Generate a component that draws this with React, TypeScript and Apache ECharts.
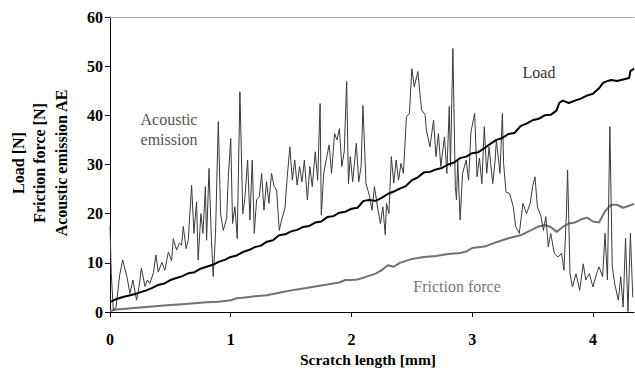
import React, { useEffect, useRef } from "react";
import * as echarts from "echarts";

const xTicks = [0, 1, 2, 3, 4];

const loadData: [number, number][] = [
  [0, 2.0], [0.05, 2.6], [0.1, 3.0], [0.15, 3.3], [0.2, 3.6], [0.25, 4.0], [0.3, 4.4], [0.35, 4.9],
  [0.4, 5.5], [0.45, 5.8], [0.5, 6.5], [0.55, 6.9], [0.6, 7.3], [0.65, 7.9], [0.7, 8.1], [0.75, 8.8],
  [0.8, 9.2], [0.85, 9.6], [0.9, 10.2], [0.95, 10.6], [1.0, 11.2], [1.05, 11.5], [1.1, 12.2],
  [1.15, 12.6], [1.2, 13.2], [1.25, 13.5], [1.3, 14.3], [1.35, 14.6], [1.4, 15.6], [1.45, 15.8],
  [1.5, 16.4], [1.55, 16.7], [1.6, 17.3], [1.65, 17.5], [1.7, 18.2], [1.75, 18.4], [1.8, 19.3],
  [1.85, 19.5], [1.9, 20.2], [1.95, 20.4], [2.0, 21.0], [2.05, 21.2], [2.1, 22.6], [2.15, 22.8],
  [2.2, 22.6], [2.25, 23.2], [2.3, 24.0], [2.35, 24.5], [2.4, 25.1], [2.45, 25.6], [2.5, 26.8],
  [2.55, 27.4], [2.6, 28.4], [2.65, 28.5], [2.7, 29.0], [2.75, 29.3], [2.8, 30.0], [2.85, 30.4],
  [2.9, 31.3], [2.95, 31.6], [3.0, 32.3], [3.05, 32.5], [3.1, 33.3], [3.15, 34.2], [3.2, 35.0],
  [3.25, 35.4], [3.3, 36.2], [3.35, 36.4], [3.4, 37.8], [3.45, 38.3], [3.5, 39.0], [3.55, 39.3],
  [3.6, 40.0], [3.65, 40.1], [3.7, 41.0], [3.72, 42.5], [3.75, 43.0], [3.8, 42.5], [3.85, 43.0],
  [3.9, 43.4], [3.95, 44.0], [4.0, 44.4], [4.05, 45.5], [4.08, 46.5], [4.1, 46.8], [4.15, 47.2],
  [4.2, 47.0], [4.25, 47.3], [4.3, 47.6], [4.31, 49.0], [4.34, 49.5],
];

const frictionData: [number, number][] = [
  [0, 0.2], [0.05, 0.5], [0.1, 0.6], [0.2, 0.8], [0.3, 1.0], [0.4, 1.2], [0.5, 1.4], [0.6, 1.6],
  [0.7, 1.8], [0.8, 2.0], [0.9, 2.1], [1.0, 2.4], [1.05, 2.8], [1.1, 2.9], [1.2, 3.2], [1.3, 3.4],
  [1.4, 3.9], [1.5, 4.4], [1.6, 4.8], [1.7, 5.2], [1.8, 5.6], [1.9, 6.0], [1.95, 6.5], [2.0, 6.5],
  [2.05, 6.6], [2.1, 7.0], [2.2, 7.8], [2.25, 8.5], [2.3, 9.5], [2.35, 9.2], [2.4, 10.0],
  [2.5, 10.8], [2.6, 11.2], [2.7, 11.4], [2.8, 11.8], [2.9, 12.0], [2.95, 12.3], [3.0, 13.0],
  [3.1, 13.3], [3.2, 14.2], [3.3, 15.0], [3.4, 15.6], [3.5, 16.8], [3.55, 17.4], [3.6, 17.7],
  [3.65, 17.3], [3.7, 16.3], [3.75, 17.3], [3.8, 18.0], [3.85, 18.2], [3.9, 18.8], [3.95, 19.2],
  [4.0, 18.4], [4.05, 18.2], [4.1, 20.5], [4.15, 21.8], [4.2, 21.8], [4.25, 21.2], [4.3, 21.6],
  [4.34, 22.0],
];

const aeData: [number, number][] = [
  [0, 17.5], [0.01, 8], [0.028, 0.3], [0.05, 1], [0.08, 7.5], [0.105, 10.6], [0.14, 7.2],
  [0.165, 3.8], [0.19, 6.5], [0.22, 2.4], [0.24, 5], [0.26, 8.9], [0.29, 5.2], [0.31, 6.5],
  [0.33, 5.8], [0.36, 8], [0.38, 11.6], [0.4, 8.1], [0.43, 10.1], [0.455, 8.5], [0.483, 12.2],
  [0.51, 10.4], [0.524, 14.9], [0.552, 12.6], [0.575, 14], [0.593, 13.6], [0.607, 17.4],
  [0.63, 12.9], [0.648, 14.6], [0.676, 25.8], [0.695, 16], [0.717, 22.4], [0.73, 10.6],
  [0.753, 20], [0.77, 16], [0.79, 25.5], [0.8, 14.6], [0.82, 29.2], [0.84, 14.6], [0.855, 7.2],
  [0.874, 16], [0.897, 38.7], [0.916, 20], [0.938, 16.6], [0.966, 19], [0.98, 27.5], [1.0, 35.3],
  [1.015, 18], [1.035, 21.4], [1.054, 14.9], [1.076, 44.8], [1.1, 20], [1.117, 23.1],
  [1.14, 30.9], [1.159, 18.7], [1.178, 30.9], [1.195, 16], [1.214, 22.8], [1.236, 23.4],
  [1.256, 28.2], [1.275, 20.7], [1.297, 26.5], [1.316, 22.1], [1.338, 28.2], [1.36, 25.5],
  [1.38, 24.8], [1.402, 16.6], [1.421, 18.7], [1.449, 21.1], [1.468, 27.5], [1.49, 33.6],
  [1.51, 26.8], [1.53, 30.9], [1.55, 25.8], [1.57, 29.6], [1.59, 26.5], [1.61, 30.9],
  [1.635, 22.8], [1.655, 29.6], [1.675, 25.5], [1.7, 32.6], [1.72, 26.8], [1.74, 42.4],
  [1.75, 19.7], [1.77, 28.2], [1.79, 30.9], [1.815, 34], [1.835, 28.2], [1.86, 36.3], [1.88, 35],
  [1.9, 37.3], [1.92, 29.6], [1.94, 32.6], [1.96, 46.9], [1.975, 26.1], [1.99, 31.6],
  [2.01, 26.5], [2.04, 34.3], [2.06, 26.5], [2.08, 29.6], [2.095, 42], [2.12, 26.2],
  [2.15, 23.5], [2.17, 20.7], [2.19, 25.5], [2.22, 20.7], [2.24, 18], [2.26, 21.4], [2.28, 15.7],
  [2.29, 22.1], [2.31, 20], [2.33, 31.6], [2.35, 26.2], [2.37, 30.9], [2.39, 26.8], [2.41, 30.2],
  [2.43, 28.2], [2.455, 39.7], [2.48, 40.4], [2.5, 49.5], [2.52, 45.8], [2.55, 48.9],
  [2.58, 41.1], [2.61, 40.1], [2.62, 37], [2.65, 33.6], [2.68, 39], [2.7, 31.6], [2.72, 36.3],
  [2.74, 29.6], [2.77, 35.6], [2.79, 28.2], [2.81, 41.8], [2.82, 29.6], [2.84, 53.6],
  [2.86, 25.5], [2.87, 22.8], [2.88, 30.9], [2.9, 18.7], [2.92, 28.2], [2.95, 30.9],
  [2.97, 26.8], [2.99, 36.7], [3.02, 40.4], [3.04, 27.5], [3.06, 31.3], [3.08, 26.1],
  [3.1, 37.7], [3.12, 28.2], [3.14, 33.6], [3.17, 26.1], [3.19, 30.9], [3.2, 35], [3.23, 28.2],
  [3.25, 40.4], [3.26, 30.2], [3.28, 24.4], [3.31, 24.1], [3.34, 21.4], [3.36, 17.4],
  [3.39, 16], [3.42, 22.1], [3.45, 20], [3.48, 22.1], [3.5, 25.5], [3.52, 27.5], [3.54, 21.4],
  [3.57, 19.4], [3.59, 16.6], [3.61, 19.4], [3.63, 13.2], [3.65, 16], [3.68, 11.9],
  [3.71, 11.2], [3.74, 11.9], [3.76, 8.5], [3.78, 20], [3.79, 28.9], [3.81, 7.8], [3.83, 5.1],
  [3.86, 7.8], [3.89, 4.4], [3.92, 9.8], [3.94, 6.5], [3.97, 7.8], [4.0, 5.1], [4.03, 7.8],
  [4.05, 9.2], [4.08, 7.2], [4.1, 16], [4.12, 6.5], [4.14, 37.7], [4.16, 9.2], [4.18, 5.8],
  [4.21, 2.4], [4.23, 7.2], [4.25, 1], [4.27, 15], [4.29, 0.1], [4.31, 16], [4.33, 3],
];

const yTitleLines = ["Load [N]", "Friction force [N]", "Acoustic emission AE"];
const xTitle = "Scratch length [mm]";

const FONT = "Liberation Serif";

export default function App() {
  const ref = useRef<HTMLDivElement>(null);
  useEffect(() => {
    if (!ref.current) return;
    const chart = echarts.init(ref.current, undefined, { renderer: "svg" });
    const axisLabelStyle = {
      fontFamily: FONT,
      fontWeight: "bold" as const,
      fontSize: 16,
      color: "#000",
    };
    chart.setOption({
      animation: false,
      backgroundColor: "#fff",
      textStyle: { fontFamily: FONT },
      grid: { left: 110, right: 1, top: 17, bottom: 65 },
      xAxis: [
        {
          type: "value",
          min: 0,
          max: 4.34,
          interval: 1,
          position: "bottom",
          axisLine: { show: true, lineStyle: { color: "#000", width: 1 } },
          axisTick: { show: true, inside: false, length: 5, lineStyle: { color: "#000" }, customValues: xTicks },
          axisLabel: { ...axisLabelStyle, margin: 19, customValues: xTicks },
          splitLine: { show: false },
          name: xTitle,
          nameLocation: "middle",
          nameGap: 32,
          nameTextStyle: { ...axisLabelStyle, fontSize: 15.5, padding: [0, 8, 0, 0] },
        },
        {
          type: "value",
          min: 0,
          max: 4.34,
          position: "top",
          axisLine: { show: true, lineStyle: { color: "#a8a8a8", width: 1 } },
          axisTick: { show: false },
          axisLabel: { show: false },
          splitLine: { show: false },
        },
      ],
      yAxis: {
        type: "value",
        min: 0,
        max: 60,
        interval: 10,
        axisLine: { show: true, lineStyle: { color: "#000", width: 1 } },
        axisTick: { show: true, inside: false, length: 5, lineStyle: { color: "#000" } },
        axisLabel: { ...axisLabelStyle, margin: 7 },
        splitLine: { show: false },
      },
      series: [
        {
          name: "Friction force",
          type: "line",
          xAxisIndex: 0,
          data: frictionData,
          showSymbol: false,
          lineStyle: { color: "#727272", width: 2 },
          z: 2,
        },
        {
          name: "Acoustic emission",
          type: "line",
          xAxisIndex: 0,
          data: aeData,
          showSymbol: false,
          lineStyle: { color: "#3a3a3a", width: 1 },
          z: 3,
        },
        {
          name: "Load",
          type: "line",
          xAxisIndex: 0,
          data: loadData,
          showSymbol: false,
          lineStyle: { color: "#000", width: 2 },
          z: 4,
        },
      ],
      graphic: [
        ...yTitleLines.map((t, i) => ({
          type: "text",
          x: 18 + i * 21.5,
          y: 163,
          rotation: Math.PI / 2,
          style: {
            text: t,
            fontFamily: FONT,
            fontWeight: "bold",
            fontSize: 16,
            fill: "#000",
            textAlign: "center",
            textVerticalAlign: "middle",
          },
        })),
        {
          type: "text",
          x: 169,
          y: 129,
          style: {
            text: "Acoustic\nemission",
            fontFamily: FONT,
            fontSize: 16,
            lineHeight: 20,
            fill: "#555",
            textAlign: "center",
            textVerticalAlign: "middle",
          },
        },
        {
          type: "text",
          x: 539,
          y: 72,
          style: {
            text: "Load",
            fontFamily: FONT,
            fontSize: 16,
            fill: "#333",
            textAlign: "center",
            textVerticalAlign: "middle",
          },
        },
        {
          type: "text",
          x: 457,
          y: 286,
          style: {
            text: "Friction force",
            fontFamily: FONT,
            fontSize: 16,
            fill: "#777",
            textAlign: "center",
            textVerticalAlign: "middle",
          },
        },
      ],
    });
    return () => chart.dispose();
  }, []);
  return (
    <div
      ref={ref}
      style={{ position: "fixed", left: 0, top: 0, width: 635, height: 377, background: "#fff" }}
    />
  );
}
